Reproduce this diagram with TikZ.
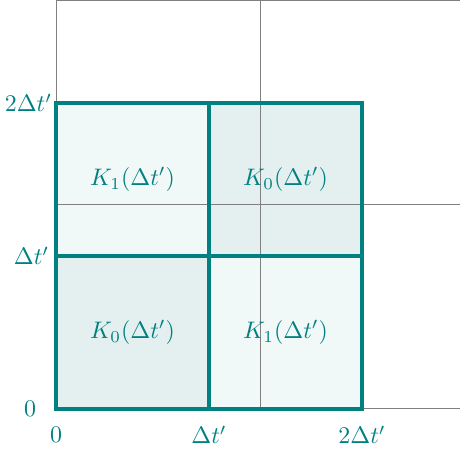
\documentclass[tikz,border=0pt]{standalone}
\usepackage{amsmath,amssymb}
\usepackage{tikz}
\usetikzlibrary{positioning,calc}
\usepackage{xcolor}
\definecolor{tealline}{RGB}{0,128,128}
\definecolor{lightK}{RGB}{240,248,248}
\definecolor{darkK}{RGB}{228,240,240}

\begin{document}
\begin{tikzpicture}[x=2.25cm,y=2.25cm,
    cell/.style={tealline, line width=1.5pt},
    lab/.style={text=tealline}]
        \useasboundingbox (-0.366,-0.294) rectangle (2.647,2.673);

        % Kerne
        \fill[darkK] (0,0) rectangle (1,1);
        \fill[lightK] (1,0) rectangle (2,1);
        \fill[lightK] (0,1) rectangle (1,2);
        \fill[darkK] (1,1) rectangle (2,2);

        % Raster
        \draw[gray, line width=0.4pt, step=4/3] (0,0) grid (2.64,2.67);

        \draw[cell] (0,0) rectangle (2,2);
        \draw[cell] (1,0) -- (1,2);
        \draw[cell] (0,1) -- (2,1);

        \node[lab] (k00) at (0.5,0.5) {$K_0(\Delta t')$};
        \node[lab] (k10) at (1.5,0.5) {$K_1(\Delta t')$};
        \node[lab] (k01) at (0.5,1.5) {$K_1(\Delta t')$};
        \node[lab] (k11) at (1.5,1.5) {$K_0(\Delta t')$};

        \node[lab] (y0) at (-0.17,0) {$0$};
        \node[lab] (y1) at (-0.16,1) {$\Delta t'$};
        \node[lab] (y2) at (-0.18,2) {$2\Delta t'$};

        \node[lab] (x0) at (0,-0.17) {$0$};
        \node[lab] (x1) at (1,-0.17) {$\Delta t'$};
        \node[lab] (x2) at (2,-0.17) {$2\Delta t'$};
    \end{tikzpicture}
\end{document}
